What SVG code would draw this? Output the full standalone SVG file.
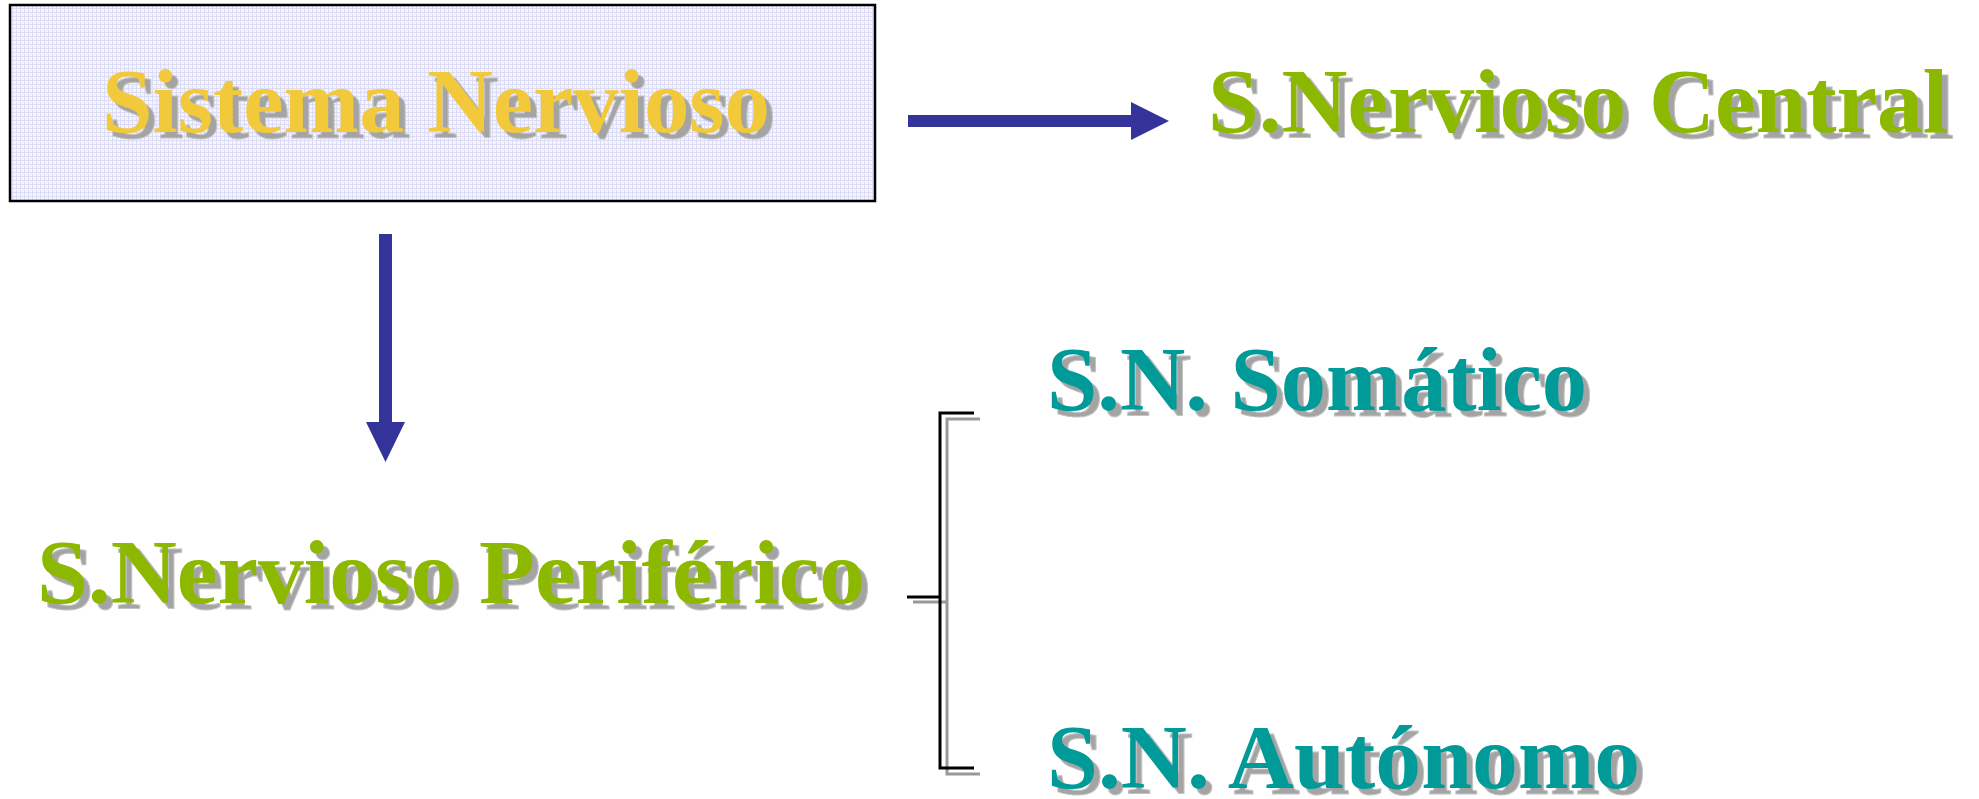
<svg xmlns="http://www.w3.org/2000/svg" width="1979" height="799" viewBox="0 0 1979 799">
  <style>
    .t { font-family: "Liberation Serif", "Times New Roman", serif; font-weight: bold; font-size: 90px; }
    .sh { fill: #a4a4a4; stroke: #c4c4c4; stroke-width: 1; }
    .yel { fill: #F2C93A; }
    .grn { fill: #8CB800; }
    .teal { fill: #009A99; }
    .arrow { fill: #333399; }
    .brk { fill: none; stroke: #000; stroke-width: 3; }
    .brk2 { fill: none; stroke: #999; stroke-width: 3; }
  </style>
  <defs>
    <pattern id="grid" width="4" height="4" patternUnits="userSpaceOnUse">
      <rect width="4" height="4" fill="#f4f4ff"/>
      <path d="M0 0.5H4M0.5 0V4" stroke="#dcdcf6" stroke-width="1"/>
    </pattern>
  </defs>
  <rect width="1979" height="799" fill="#ffffff"/>

  <g id="node-sistema">
    <rect x="10" y="5" width="865" height="196" fill="url(#grid)" stroke="#000" stroke-width="2.5"/>
    <text class="t sh" x="108" y="138" textLength="668" lengthAdjust="spacingAndGlyphs">Sistema Nervioso</text>
    <text class="t yel" x="102" y="132" textLength="668" lengthAdjust="spacingAndGlyphs">Sistema Nervioso</text>
  </g>

  <g id="node-central">
    <text class="t sh" x="1214" y="138" textLength="740" lengthAdjust="spacingAndGlyphs">S.Nervioso Central</text>
    <text class="t grn" x="1208" y="132" textLength="740" lengthAdjust="spacingAndGlyphs">S.Nervioso Central</text>
  </g>

  <g id="node-periferico">
    <text class="t sh" x="43" y="609" textLength="828" lengthAdjust="spacingAndGlyphs">S.Nervioso Periférico</text>
    <text class="t grn" x="37" y="603" textLength="828" lengthAdjust="spacingAndGlyphs">S.Nervioso Periférico</text>
  </g>

  <g id="node-somatico">
    <text class="t sh" x="1053" y="416" textLength="540" lengthAdjust="spacingAndGlyphs">S.N. Somático</text>
    <text class="t teal" x="1047" y="410" textLength="540" lengthAdjust="spacingAndGlyphs">S.N. Somático</text>
  </g>

  <g id="node-autonomo">
    <text class="t sh" x="1053" y="794" textLength="593" lengthAdjust="spacingAndGlyphs">S.N. Autónomo</text>
    <text class="t teal" x="1047" y="788" textLength="593" lengthAdjust="spacingAndGlyphs">S.N. Autónomo</text>
  </g>

  <g id="connectors">
    <polygon class="arrow" points="908,115 1131,115 1131,102 1169,121 1131,140 1131,127 908,127"/>
    <polygon class="arrow" points="379,234 392,234 392,422 405,422 385.5,462 366,422 379,422"/>
    <path class="brk2" d="M980,419 H947 V774 H980 M913,602 H947"/>
    <path class="brk" d="M974,413 H940 V768 H974 M907,597 H940"/>
  </g>
</svg>
